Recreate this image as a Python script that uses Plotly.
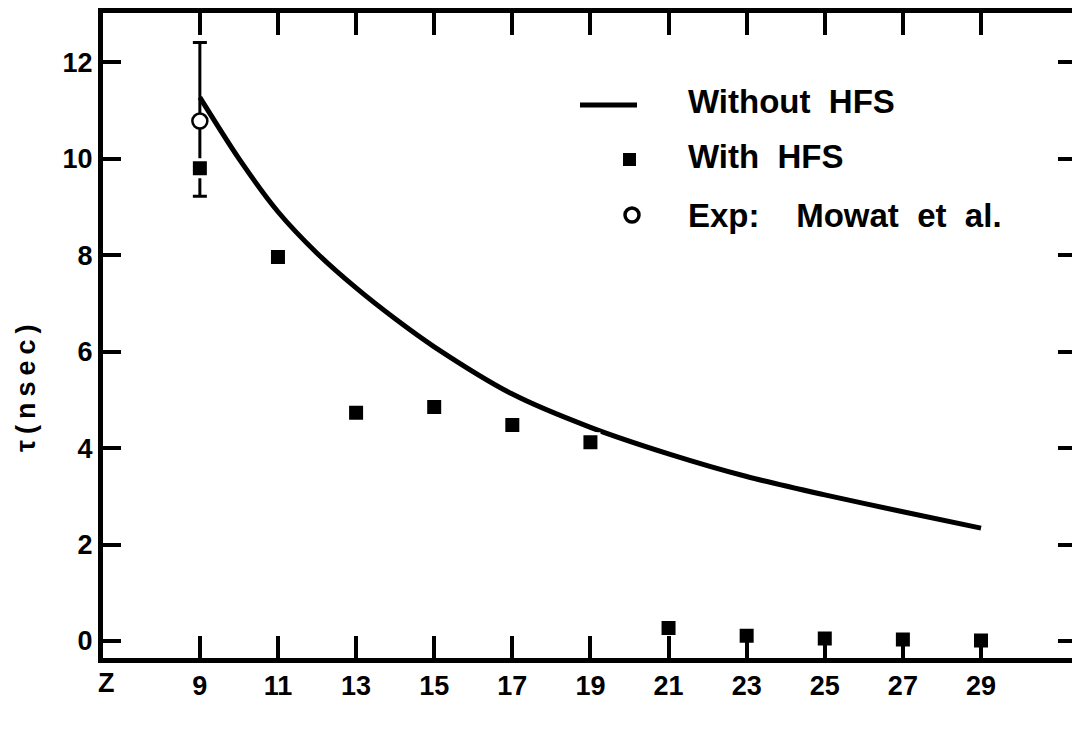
import plotly.graph_objects as go

# ---- data ----
z_curve = [9, 10, 11, 12, 13, 14, 15, 17, 19, 21, 23, 25, 27, 29]
tau_without_hfs = [11.27, 10.0, 8.9, 8.04, 7.32, 6.68, 6.1, 5.12, 4.43, 3.88, 3.41, 3.03, 2.68, 2.34]

z_points = [9, 11, 13, 15, 17, 19, 21, 23, 25, 27, 29]
tau_with_hfs = [9.80, 7.96, 4.73, 4.85, 4.48, 4.12, 0.27, 0.11, 0.05, 0.03, 0.01]

z_exp = [9]
tau_exp = [10.78]
tau_exp_err_plus = [1.63]
tau_exp_err_minus = [1.56]

x_ticks = [9, 11, 13, 15, 17, 19, 21, 23, 25, 27, 29]
y_ticks = [0, 2, 4, 6, 8, 10, 12]

# ---- layout geometry (pixels; page body margin is removed below) ----
W, H = 1072, 731
PLOT_LEFT, PLOT_TOP, PLOT_BOTTOM = 103, 13, 658
L, R = PLOT_LEFT, 0
T, B = PLOT_TOP, H - PLOT_BOTTOM
PW, PH = W - L - R, H - T - B


def px(xp):
    return (xp - PLOT_LEFT) / PW


def py(yp):
    return (PLOT_BOTTOM - yp) / PH


FONT = "Liberation Sans"
fig = go.Figure()

fig.add_trace(go.Scatter(
    x=z_curve, y=tau_without_hfs, mode="lines", name="Without HFS",
    line=dict(color="black", width=5, shape="spline", smoothing=0.8),
    showlegend=False, hoverinfo="x+y"))

fig.add_trace(go.Scatter(
    x=z_exp, y=tau_exp, mode="markers", name="Exp: Mowat et al.",
    marker=dict(size=1, color="rgba(0,0,0,0)"),
    error_y=dict(type="data", symmetric=False, array=tau_exp_err_plus,
                 arrayminus=tau_exp_err_minus, color="black", thickness=3, width=7),
    showlegend=False, hoverinfo="skip"))

fig.add_trace(go.Scatter(
    x=z_points, y=tau_with_hfs, mode="markers", name="With HFS",
    marker=dict(symbol="square", size=17, color="black",
                line=dict(color="white", width=3)),
    showlegend=False))

fig.add_trace(go.Scatter(
    x=z_exp, y=tau_exp, mode="markers", name="Exp: Mowat et al.",
    marker=dict(symbol="circle", size=15, color="white",
                line=dict(color="black", width=2.5)),
    showlegend=False))

# empty trace so that the right-hand tick axis is rendered
fig.add_trace(go.Scatter(x=[], y=[], yaxis="y2", showlegend=False, hoverinfo="skip"))

# ---- hand-drawn style legend ----
shapes = [
    dict(type="line", xref="paper", yref="paper", x0=px(580), x1=px(637),
         y0=py(105), y1=py(105), line=dict(color="black", width=5)),
    dict(type="rect", xref="paper", yref="paper", x0=px(623), x1=px(636),
         y0=py(153), y1=py(166), fillcolor="black", line=dict(width=0)),
    dict(type="circle", xref="paper", yref="paper", x0=px(625), x1=px(639),
         y0=py(208), y1=py(222), fillcolor="white",
         line=dict(color="black", width=3.5)),
]
ann = []
for text, ycen in [("Without\u00a0 HFS", 102), ("With\u00a0 HFS", 156),
                   ("Exp:\u00a0\u00a0\u00a0 Mowat\u00a0 et\u00a0 al.", 215)]:
    ann.append(dict(text=text, xref="paper", yref="paper", x=px(686), y=py(ycen),
                    xanchor="left", yanchor="middle", showarrow=False,
                    font=dict(family=FONT, size=33, color="black", weight="bold")))

ann.append(dict(text="Z", xref="x", yref="paper", x=6.6, y=py(683),
                xanchor="center", yanchor="middle", showarrow=False,
                font=dict(family=FONT, size=27, color="black", weight="bold")))
ann.append(dict(text='<span style="letter-spacing:6px">τ(nsec)</span>',
                xref="paper", yref="paper", x=px(26), y=py(385),
                xanchor="center", yanchor="middle", textangle=-90, showarrow=False,
                font=dict(family=FONT, size=27, color="black", weight="bold")))

fig.update_layout(
    width=W, height=H,
    margin=dict(l=L, r=R, t=T, b=B, pad=0),
    paper_bgcolor="white", plot_bgcolor="white",
    shapes=shapes, annotations=ann, showlegend=False,
    font=dict(family=FONT, color="black"),
    xaxis=dict(range=[6.52, 31.33], tickvals=x_ticks, ticktext=[str(v) for v in x_ticks],
               ticks="inside", ticklen=22, tickwidth=4, tickcolor="black",
               showline=True, linewidth=5, linecolor="black", mirror="ticks",
               showgrid=False, zeroline=False, automargin=False,
               tickfont=dict(family=FONT, size=27, color="black", weight="bold")),
    yaxis=dict(range=[-0.352, 13.02], tickvals=y_ticks, ticktext=[str(v) for v in y_ticks],
               ticks="inside", ticklen=18, tickwidth=4, tickcolor="black",
               showline=True, linewidth=5, linecolor="black", mirror=False,
               showgrid=False, zeroline=False, automargin=False,
               tickfont=dict(family=FONT, size=27, color="black", weight="bold")),
    yaxis2=dict(range=[-0.352, 13.02], overlaying="y", side="right",
                tickvals=y_ticks, ticks="inside", ticklen=14, tickwidth=4,
                tickcolor="black", showticklabels=False, showline=False,
                showgrid=False, zeroline=False, automargin=False),
)

fig.write_html(
    "out.html",
    config={"displayModeBar": False},
    post_script="document.body.style.margin='0';document.body.style.overflow='hidden';",
)
